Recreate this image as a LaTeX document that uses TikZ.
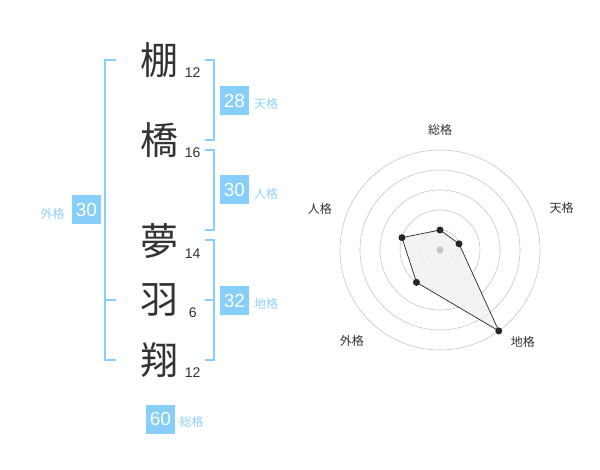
\documentclass[tikz,border=0pt]{standalone}
\usepackage{fontspec}
\setmainfont{Liberation Sans}
\newfontfamily\cjk{Noto Sans CJK JP}
\definecolor{kakublue}{HTML}{87CEFA}
\definecolor{kakulabel}{HTML}{8FD0F7}
\definecolor{chargray}{HTML}{333333}

\begin{document}
\begin{tikzpicture}[x=1pt,y=-1pt]
   \tikzstyle{kanji}=[font=\cjk\fontsize{38}{38}\selectfont, text=chargray, inner sep=0]
   \tikzstyle{strokes}=[font=\fontsize{14}{14}\selectfont, text=chargray, inner sep=0]
   \tikzstyle{kaku}=[fill=kakublue, text=white, minimum size=29pt, inner sep=0, font=\fontsize{19}{19}\selectfont]
   \tikzstyle{kakuname}=[text=kakulabel, font=\cjk\fontsize{12}{12}\selectfont, inner sep=0]
   \tikzstyle{bracket}=[draw=kakublue, line width=2pt]
   \tikzstyle{axisname}=[text=chargray, font=\cjk\fontsize{12}{12}\selectfont, inner sep=0]
   \tikzstyle{ring}=[draw=gray!45, line width=0.6pt]
   \tikzstyle{score}=[circle, fill=black!85, inner sep=0, minimum size=7pt]

\useasboundingbox (0,0) rectangle (600,470);

% name characters and stroke counts
\node[kanji] (c1) at (159,60) {棚};
\node[kanji] (c2) at (159,140) {橋};
\node[kanji] (c3) at (159,241) {夢};
\node[kanji] (c4) at (159,300) {羽};
\node[kanji] (c5) at (159,360) {翔};
\node[strokes] (s1) at (192.7,72.7) {12};
\node[strokes] (s2) at (192.7,152.7) {16};
\node[strokes] (s3) at (192.7,253.3) {14};
\node[strokes] (s4) at (192.7,312.7) {6};
\node[strokes] (s5) at (192.7,372.7) {12};

% brackets
\coordinate (lt) at (116,60);
\coordinate (lm) at (116,300);
\coordinate (lb) at (116,360);
\draw[bracket] (lt) -- ++(-11,0) |- (lb);
\draw[bracket] (lm) -- ++(-11,0);
\coordinate (r1t) at (205,60);
\coordinate (r1b) at (205,140);
\coordinate (r2t) at (205,150);
\coordinate (r2b) at (205,230);
\coordinate (r3t) at (205,240);
\coordinate (r3m) at (205,300);
\coordinate (r3b) at (205,360);
\draw[bracket] (r1t) -- ++(9,0) |- (r1b);
\draw[bracket] (r2t) -- ++(9,0) |- (r2b);
\draw[bracket] (r3t) -- ++(9,0) |- (r3b);
\draw[bracket] (r3m) -- ++(9,0);

% kaku values
\node[kaku] (ten) at (234.5,100.5) {28};
\node[kaku] (jin) at (234.5,190) {30};
\node[kaku] (chi) at (234.5,300.5) {32};
\node[kaku] (gai) at (86.5,210) {30};
\node[kaku] (sou) at (160.5,419) {60};
\node[kakuname] (tenname) at (266,104) {天格};
\node[kakuname] (jinname) at (266,194) {人格};
\node[kakuname] (chiname) at (266,304) {地格};
\node[kakuname] (gainame) at (52.7,214) {外格};
\node[kakuname] (souname) at (191.7,422.3) {総格};

% radar chart
\begin{scope}[shift={(440,250)}, yscale=-1]
   \foreach \r in {20,40,60,80,100}
      \draw[ring] (0,0) circle (\r);
   \node[axisname] (asou) at (90:120) {総格};
   \node[axisname] (aten) at (19:128.5) {天格};
   \node[axisname] (achi) at (-48:124) {地格};
   \node[axisname] (agai) at (-134:127) {外格};
   \node[axisname] (ajin) at (161:127) {人格};
   \coordinate (p1) at (90:20);
   \coordinate (p2) at (18:20);
   \coordinate (p3) at (-54:100);
   \coordinate (p4) at (-126:40);
   \coordinate (p5) at (162:40);
   \fill[gray!12, opacity=0.8] (p1) -- (p2) -- (p3) -- (p4) -- (p5) -- cycle;
   \draw[black!85, line width=0.7pt] (p1) -- (p2) -- (p3) -- (p4) -- (p5) -- cycle;
   \node[circle, fill=gray!45, inner sep=0, minimum size=7pt] (mid) at (0,0) {};
   \foreach \p in {p1,p2,p3,p4,p5}
      \node[score] at (\p) {};
\end{scope}

\end{tikzpicture}
\end{document}
